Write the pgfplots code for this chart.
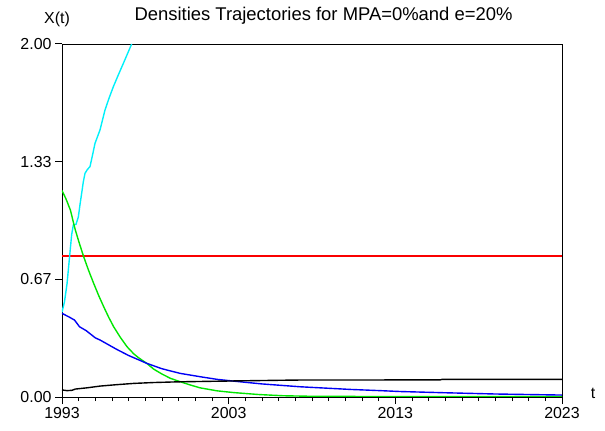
\documentclass[border=0pt]{standalone}
\usepackage{pgfplots}
\pgfplotsset{compat=1.18}
\usepackage{fontspec}
\setmainfont{Liberation Sans}
\definecolor{myCyan}{RGB}{0,240,250}
\definecolor{myGreen}{RGB}{0,230,0}
\definecolor{myBlue}{RGB}{0,0,245}
\definecolor{myRed}{RGB}{250,0,0}
\begin{document}
\begin{tikzpicture}
\path (-62bp,-34bp) rectangle (543bp,397bp);
\begin{axis}[
  scale only axis, width=500bp, height=353bp,
  xmin=1993, xmax=2023, ymin=0, ymax=2,
  xtick={1993,2003,2013,2023},
  minor x tick num=9,
  ytick={0,0.666667,1.333333,2},
  minor y tick num=5,
  yticklabels={0.00,0.67,1.33,2.00},
  xticklabels={1993,2003,2013,2023},
  tick align=outside, tick pos=left,
  major tick length=7bp, minor tick length=4bp,
  tick style={draw=black, line width=1pt},
  tick label style={font=\fontsize{16}{18}\selectfont},
]
\addplot[draw=myRed, line width=1.6pt, no markers] coordinates {(1993,0.80) (2008,0.80) (2023,0.80)};
\addplot[draw=myCyan, line width=1.4pt, no markers] coordinates {
(1993.0,0.48) (1993.15,0.54) (1993.3,0.64) (1993.45,0.79) (1993.58,0.92) (1993.68,0.975) (1993.84,0.978)
(1993.98,1.02) (1994.08,1.09) (1994.18,1.154) (1994.28,1.22) (1994.38,1.267) (1994.53,1.29) (1994.68,1.305)
(1994.83,1.37) (1994.98,1.437) (1995.13,1.475) (1995.28,1.513) (1995.43,1.57) (1995.58,1.626)
(1995.83,1.695) (1996.08,1.758) (1996.38,1.825) (1996.68,1.89) (1996.93,1.945) (1997.18,2.0)};
\addplot[draw=myGreen, line width=1.4pt, no markers] coordinates {
(1993.0,1.17) (1993.25,1.12) (1993.5,1.06) (1993.8,0.946) (1994.05,0.868) (1994.3,0.795) (1994.6,0.716) (1994.9,0.644)
(1995.2,0.575) (1995.5,0.512) (1995.8,0.452) (1996.1,0.398) (1996.5,0.338) (1996.9,0.285) (1997.3,0.245) (1997.6,0.222) (1998.08,0.191)
(1998.5,0.158) (1999.0,0.13) (1999.5,0.106) (2000.08,0.087) (2000.7,0.068) (2001.28,0.052) (2002.3,0.035) (2003.3,0.025)
(2004.8,0.014) (2006.3,0.007) (2008,0.004) (2011,0.003) (2023,0.003)};
\addplot[draw=myBlue, line width=1.4pt, no markers] coordinates {
(1993.0,0.474) (1993.45,0.452) (1993.75,0.436) (1994.05,0.398) (1994.45,0.376)
(1995.0,0.335) (1995.28,0.323) (1996.28,0.27) (1997.0,0.235) (1998.08,0.191)
(1999.0,0.16) (2000.08,0.134) (2001.28,0.115) (2002.3,0.100) (2003.5,0.088)
(2005.0,0.074) (2007.28,0.058) (2010.28,0.043) (2012.1,0.036) (2013.3,0.031)
(2016.0,0.024) (2019.0,0.017) (2023.0,0.011)};
\addplot[draw=black, line width=1.4pt, no markers] coordinates {
(1993.0,0.040) (1993.3,0.036) (1993.6,0.038) (1993.8,0.045) (1994.5,0.052)
(1995.3,0.062) (1996.3,0.070) (1997.3,0.077) (1998.5,0.082) (2000.0,0.086)
(2002.0,0.089) (2004.0,0.092) (2007.0,0.096) (2015.7,0.097) (2015.8,0.100) (2023.0,0.100)};
\end{axis}
\node[font=\fontsize{18.5}{21}\selectfont, anchor=base west] at (69bp,376bp) {Densities Trajectories for MPA=0\%and e=20\%};
\node[font=\fontsize{16}{18}\selectfont] at (-5bp,378bp) {X(t)};
\node[font=\fontsize{16}{18}\selectfont] at (531bp,4bp) {t};
\end{tikzpicture}
\end{document}
